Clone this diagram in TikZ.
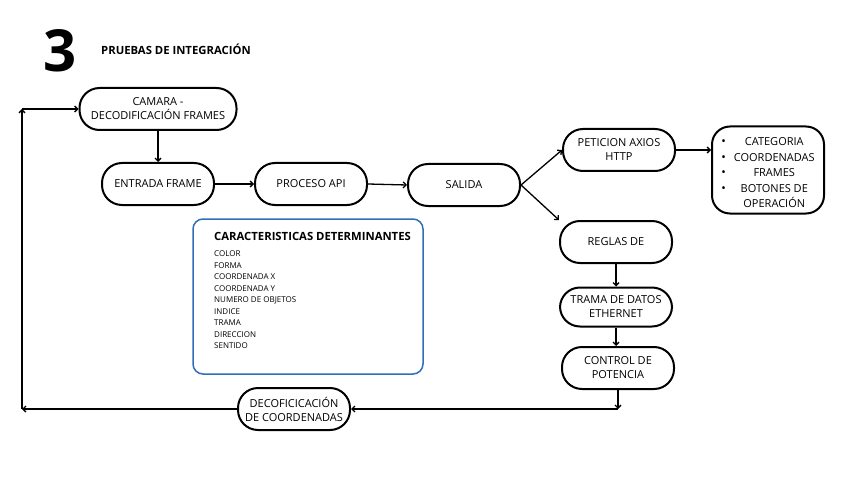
\documentclass[tikz,border=0pt]{standalone}
\usepackage{fontspec}
\setmainfont{Open Sans}
\usepackage{xcolor}
\usetikzlibrary{positioning, arrows.meta}

\definecolor{boxblue}{HTML}{2F6EBA}

\begin{document}
\begin{tikzpicture}[x=1pt, y=-1pt, >={Straight Barb[length=3pt,width=6pt]},
	pill/.style={draw, line width=2pt, rounded corners=20pt, minimum width=112pt, minimum height=42pt, inner sep=1pt, align=center, font=\fontsize{11}{14}\selectfont},
	flow/.style={->, line width=1.3pt}]
			
			\useasboundingbox (0,0) rectangle (861,481);
			
			% Title
			\node (num) [inner sep=0pt] at (60,51) {\fontsize{58}{58}\selectfont\bfseries 3};
			\node (titulo) [anchor=west, inner sep=0pt] at (101,49) {\fontsize{11.3}{13}\selectfont\bfseries PRUEBAS DE INTEGRACIÓN};
			
			% Draw pills
			\node (camara) [pill, minimum width=157pt] at (158,109) {CAMARA -\\DECODIFICACIÓN FRAMES};
			\node (entrada) [pill] at (158,184) {ENTRADA FRAME};
			\node (proceso) [pill] at (311,184) {PROCESO API};
			\node (salida) [pill] at (464,185) {SALIDA};
			\node (peticion) [pill] at (619,150) {PETICION AXIOS\\HTTP};
			\node (lista) [draw, line width=2pt, rounded corners=18pt, minimum width=112pt, minimum height=87pt, inner sep=1pt, font=\fontsize{11}{15.6}\selectfont] at (768,170) {%
				\raisebox{-3.5pt}[\height][\depth]{\begin{tabular}{@{}c@{\hspace{8pt}}c@{}}
					{\large\textbullet} & CATEGORIA\\
					{\large\textbullet} & COORDENADAS\\
					{\large\textbullet} & FRAMES\\
					{\large\textbullet} & BOTONES DE\\
					& OPERACIÓN
				\end{tabular}}};
			\node (reglas) [pill] at (616,242) {REGLAS DE};
			\node (trama) [pill, minimum height=39pt] at (616,307) {TRAMA DE DATOS\\ETHERNET};
			\node (control) [pill] at (618,368) {CONTROL DE\\POTENCIA};
			\node (decof) [pill] at (294,409) {DECOFICICACIÓN\\DE COORDENADAS};
			
			% Characteristics box
			\node (caract) [draw=boxblue, line width=1.5pt, rounded corners=10pt, minimum width=230pt, minimum height=155pt] at (308,296.5) {};
			\node (caracttxt) [anchor=north west, inner sep=0pt, align=left, font=\fontsize{8}{11.5}\selectfont] at (214,232) {%
				{\fontsize{11.3}{13}\selectfont\bfseries CARACTERISTICAS DETERMINANTES}\\[5pt]
				COLOR\\
				FORMA\\
				COORDENADA X\\
				COORDENADA Y\\
				NUMERO DE OBJETOS\\
				INDICE\\
				TRAMA\\
				DIRECCION\\
				SENTIDO};
			
			% Return path corners
			\coordinate (corner) at (control.south |- decof.east);
			\coordinate (retl) at (22,409);
			\coordinate (retu) at (retl |- camara.west);
			
			% Draw arrows
			\draw[flow] (camara.south) -- (entrada.north);
			\draw[flow] (entrada.east) -- (proceso.west);
			\draw[flow] (proceso.east) -- (salida.west);
			\draw[flow] (salida.east) -- (peticion.west);
			\draw[flow] (salida.east) -- (reglas.north west);
			\draw[flow] (peticion.east) -- (lista.west |- peticion.east);
			\draw[flow] (reglas.south) -- (trama.north);
			\draw[flow] (trama.south) -- (trama.south |- control.north);
			\draw[flow] (control.south) -- (corner);
			\draw[flow] (corner) -- (decof.east);
			\draw[flow] (decof.west) -- (retl);
			\draw[flow] (retl) -- (retu);
			\draw[flow] (retu) -- (camara.west);
			
		\end{tikzpicture}
\end{document}
